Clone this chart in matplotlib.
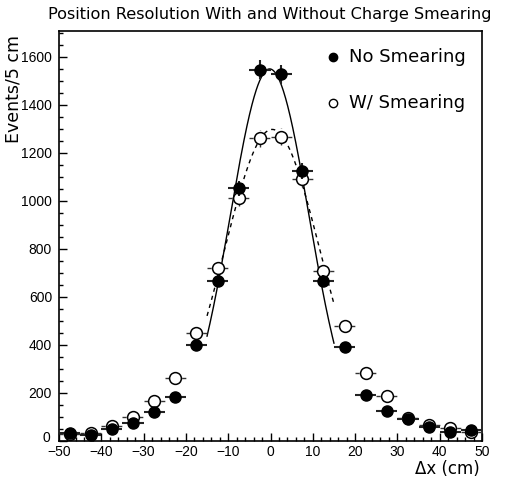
import numpy as np
import matplotlib
matplotlib.use("Agg")
import matplotlib.pyplot as plt
from matplotlib.ticker import MultipleLocator, FuncFormatter

bin_centers = [-47.5, -42.5, -37.5, -32.5, -27.5, -22.5, -17.5, -12.5, -7.5, -2.5,
               2.5, 7.5, 12.5, 17.5, 22.5, 27.5, 32.5, 37.5, 42.5, 47.5]
no_smear = [33, 24, 52, 75, 121, 183, 402, 667, 1052, 1546,
            1527, 1123, 667, 392, 192, 125, 92, 58, 38, 46]
w_smear = [30, 33, 62, 100, 166, 262, 450, 720, 1012, 1262,
           1267, 1092, 708, 480, 283, 187, 96, 67, 54, 37]

fit_no = dict(amp=1550, mean=-0.2, sigma=9.3)
fit_w = dict(amp=1298, mean=0.4, sigma=11.4)
fit_range = (-15, 15)

plt.rcParams['font.family'] = ['DejaVu Sans']

fig = plt.figure(figsize=(5.06, 4.79), dpi=100)
ax = fig.add_axes([59/506, 1-441/479, (482-59)/506, (441-31)/479])

x = np.array(bin_centers)
y1 = np.array(no_smear, float)
y2 = np.array(w_smear, float)

eb2 = ax.errorbar(x, y2, xerr=2.5, yerr=np.sqrt(y2), fmt='o', mfc='white', mec='black',
                  ms=8.5, mew=1.1, ecolor='#333333', elinewidth=1.0, capsize=0, zorder=3)
for lc in eb2[2]:
    lc.set_linestyle((0, (3, 3)))
eb1 = ax.errorbar(x, y1, xerr=2.5, yerr=np.sqrt(y1), fmt='o', mfc='black', mec='black',
                  ms=8, ecolor='#222222', elinewidth=1.5, capsize=0, zorder=4)

xx = np.linspace(fit_range[0], fit_range[1], 300)
g1 = fit_no['amp']*np.exp(-(xx-fit_no['mean'])**2/(2*fit_no['sigma']**2))
g2 = fit_w['amp']*np.exp(-(xx-fit_w['mean'])**2/(2*fit_w['sigma']**2))
ax.plot(xx, g1, color='black', lw=1.0, zorder=2)
ax.plot(xx, g2, color='black', lw=1.0, ls=(0, (3, 3)), zorder=2)

ax.set_xlim(-50, 50)
ax.set_ylim(0, 1708)
ax.xaxis.set_major_locator(MultipleLocator(10))
ax.xaxis.set_minor_locator(MultipleLocator(2))
ax.yaxis.set_major_locator(MultipleLocator(200))
ax.yaxis.set_minor_locator(MultipleLocator(50))
ax.yaxis.set_major_formatter(FuncFormatter(lambda v, p: '' if abs(v) < 1e-9 else f'{v:.0f}'))
ax.tick_params(which='both', direction='in', top=False, right=False, labelsize=10)
ax.tick_params(which='major', length=5.5, width=1)
ax.tick_params(which='minor', length=3, width=1)
for lab in ax.get_xticklabels() + ax.get_yticklabels():
    lab.set_family(['Liberation Sans', 'DejaVu Sans'])
ax.tick_params(axis='x', pad=3)
ax.tick_params(axis='y', pad=5)
for s in ax.spines.values():
    s.set_linewidth(1.2)

ax.annotate('0', xy=(0, 0), xycoords='axes fraction', xytext=(-6.5, 2),
            textcoords='offset points', ha='right', va='center', fontsize=10,
            family=['Liberation Sans', 'DejaVu Sans'])

fig.text(270/506, 1-14/479, 'Position Resolution With and Without Charge Smearing',
         fontsize=11.6, ha='center', va='center')
fig.text(480/506, 1-469/479, 'Δx (cm)', fontsize=12, ha='right', va='center')
fig.text(14/506, 1-35/479, 'Events/5 cm', fontsize=12.5, ha='center', va='top', rotation=90)

ax.plot([14.8], [1600], 'o', mfc='black', mec='black', ms=6)
ax.text(18.5, 1600, 'No Smearing', fontsize=13, va='center')
ax.plot([14.8], [1408], 'o', mfc='white', mec='black', ms=6, mew=1)
ax.text(18.5, 1408, 'W/ Smearing', fontsize=13, va='center')

fig.savefig('out.png', dpi=100)
